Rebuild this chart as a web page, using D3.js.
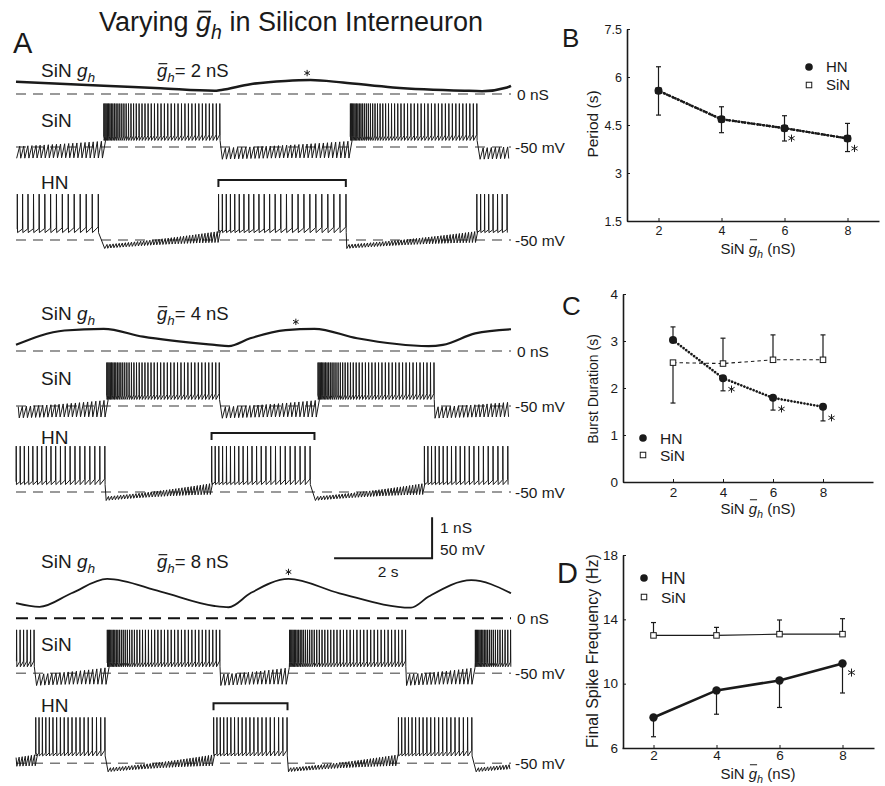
<!DOCTYPE html>
<html>
<head>
<meta charset="utf-8">
<script src="https://cdn.jsdelivr.net/npm/d3@7"></script>
<style>
  body { margin: 0; background: #fff; }
  svg text { font-family: "Liberation Sans", Arial, Helvetica, sans-serif; fill: #1a1a1a; white-space: pre; }
</style>
</head>
<body>
<svg id="fig" width="885" height="786"></svg>
<script>
// ---------- values ----------

// panel A: one recording per SiN gbar_h (nS)
const rowGbar = [2, 4, 8];

// SiN g_h trace, read by eye: time (s) and conductance (nS)
const ghTimes = [
  [0, 1.79, 2.95, 4.05, 4.19, 4.78, 5.50, 6.01, 6.67, 7.69, 9.15, 9.51, 10.02, 10.1],
  [0, 0.99, 1.79, 2.59, 4.05, 4.34, 4.78, 5.50, 6.09, 6.96, 8.42, 8.71, 9.37, 10.1],
  [0, 0.48, 1.13, 1.86, 2.95, 4.05, 4.34, 4.78, 5.56, 6.60, 8.06, 8.42, 9.29, 10.1]
];
const ghValues = [
  [0.30, 0.20, 0.14, 0.08, 0.10, 0.24, 0.32, 0.34, 0.28, 0.16, 0.08, 0.07, 0.16, 0.20],
  [0.15, 0.50, 0.54, 0.35, 0.15, 0.12, 0.31, 0.51, 0.54, 0.31, 0.12, 0.15, 0.43, 0.53],
  [0.37, 0.28, 0.61, 0.96, 0.65, 0.30, 0.27, 0.61, 0.96, 0.61, 0.26, 0.53, 0.93, 0.61]
];
// where the asterisk sits over the g_h peak (s)
const starTimes = [5.94, 5.71, 5.56];

// burst windows (s); windows cut by the trace edges extend past it
const sinBursts = [
  [[1.79, 4.19], [6.82, 9.45]],
  [[1.85, 4.19], [6.16, 8.53]],
  [[-2.0, 0.40], [1.86, 4.16], [5.58, 7.95], [9.37, 11.7]]
];
const hnBursts = [
  [[-0.8, 1.79], [4.13, 6.73], [9.40, 12.0]],
  [[-0.3, 1.82], [3.99, 6.09], [8.33, 10.5]],
  [[0.40, 1.86], [4.03, 5.54], [7.80, 9.37]]
];
// spike rate at burst start / burst end (Hz)
const sinRateHz = [[45, 14], [45, 14], [45, 14]];
const hnRateHz = [[13, 8], [14, 9.6], [15, 11.2]];

// panels B-D
const gbar = [2, 4, 6, 8];
const periodTicks = [1.5, 3, 4.5, 6, 7.5];
const periodHN = [5.57, 4.68, 4.40, 4.08];
const periodLo = [4.81, 4.26, 4.00, 3.67];
const periodHi = [6.32, 5.07, 4.79, 4.55];
const periodSiN = [5.57, 4.68, 4.40, 4.08];

const burstTicks = [0, 1, 2, 3, 4];
const burstHN = [3.02, 2.21, 1.79, 1.60];
const burstHNEnd = [3.30, 1.94, 1.53, 1.30];
const burstSiN = [2.54, 2.52, 2.60, 2.60];
const burstSiNEnd = [1.68, 3.06, 3.13, 3.13];

const freqTicks = [6, 10, 14, 18];
const freqHN = [7.9, 9.58, 10.2, 11.25];
const freqHNEnd = [6.7, 8.1, 8.52, 9.42];
const freqSiN = [13.0, 13.0, 13.08, 13.08];
const freqSiNEnd = [13.8, 13.5, 13.96, 14.04];

// ---------- drawing ----------
const svg = d3.select("#fig");
const ink = "#1a1a1a";
const T_END = 10.1;
const xT = d3.scaleLinear().domain([0, T_END]).range([16, 511]);
const PX = 41;   // 1 nS and 50 mV are both 41 px tall

// text with an italic g_h; rise = height of the bar over g (in em), null for no bar
function ghLabel(parent, x, y, size, before, after, rise) {
  const t = parent.append("text").attr("x", x).attr("y", y).style("font-size", size + "px");
  if (before) t.append("tspan").text(before);
  t.append("tspan").style("font-style", "italic").text("g");
  t.append("tspan").style("font-style", "italic").style("font-size", (size * 0.72) + "px")
    .attr("dy", size * 0.28).text("h");
  if (after) t.append("tspan").attr("dy", -size * 0.28).text(after);
  if (rise != null) {
    const box = t.node().getExtentOfChar(before.length);
    parent.append("line")
      .attr("x1", box.x + size * 0.08).attr("x2", box.x + box.width)
      .attr("y1", y - size * rise).attr("y2", y - size * rise)
      .attr("stroke", ink).attr("stroke-width", Math.max(1, size * 0.065));
  }
  return t;
}

function star(parent, cx, cy, r, w) {
  [90, 30, -30].forEach(a => {
    const dx = r * Math.cos(a * Math.PI / 180), dy = r * Math.sin(a * Math.PI / 180);
    parent.append("line").attr("x1", cx - dx).attr("y1", cy - dy).attr("x2", cx + dx).attr("y2", cy + dy)
      .attr("stroke", ink).attr("stroke-width", w || 1);
  });
}

// waveform shapes (mV)
const sinShape = {peak: 3, trough: -42, base0: -37, base1: -35, ib0: -58, ib1: -53, amp0: 14, amp1: 21, toothHz: 12, tau: 0.3};
const hnShape = {peak: 6, trough: -41, base0: -38, base1: -34, ib0: -58, ib1: -46, amp0: 5, amp1: 14, toothHz: 16, tau: 0.6};

function spikeTrace(bursts, rate, p) {
  const pts = [];
  const gaps = [];
  for (let i = 1; i < bursts.length; i++) gaps.push(bursts[i][0] - bursts[i - 1][1]);
  const gapLen = gaps.length ? d3.mean(gaps) : 2.5;

  function interburst(a, b) {
    const per = 1 / p.toothHz;
    for (let t = a + 0.02; t < b; t += per) {
      const ph = (t - a) / (b - a);
      const c = p.ib0 + (p.ib1 - p.ib0) * ph;
      const amp = p.amp0 + (p.amp1 - p.amp0) * ph * ph;
      pts.push([t, c - amp / 2], [t + per * 0.75, c + amp / 2]);
    }
  }
  function burst(a, b) {
    let t = a;
    while (t < b) {
      const f = rate[1] + (rate[0] - rate[1]) * Math.exp(-(t - a) / p.tau);
      const fr = (t - a) / (b - a);
      pts.push([t, p.base0 + (p.base1 - p.base0) * fr], [t + 0.003, p.peak], [t + 0.008, p.trough]);
      t += 1 / f;
    }
  }
  let prevEnd = bursts[0][0] - gapLen;
  bursts.forEach(b => {
    interburst(prevEnd, b[0]);
    burst(b[0], b[1]);
    prevEnd = b[1];
  });
  interburst(prevEnd, prevEnd + gapLen);
  return pts.filter(d => d[0] >= 0 && d[0] <= T_END);
}

// title and panel letters
ghLabel(svg, 99, 31, 27, "Varying ", " in Silicon Interneuron", 0.72);
[["A", 13, 53, 29], ["B", 562, 47, 26], ["C", 562, 315, 26], ["D", 557, 583, 29]].forEach(d => {
  svg.append("text").attr("x", d[1]).attr("y", d[2]).style("font-size", d[3] + "px").text(d[0]);
});

// panel A rows (layout)
const rows = [
  {ghZero: 94, sinZero: 147, hnZero: 240, labelY: 77, sinY: 127, hnY: 189, bracketY: 180, ghW: 2.5, zeroBlack: false},
  {ghZero: 351, sinZero: 406, hnZero: 492, labelY: 320, sinY: 385, hnY: 444, bracketY: 433, ghW: 2.2, zeroBlack: false},
  {ghZero: 618.3, sinZero: 673.3, hnZero: 763.3, labelY: 568, sinY: 651, hnY: 712, bracketY: 703.3, ghW: 1.8, zeroBlack: true}
];

rows.forEach((r, i) => {
  const g = svg.append("g");
  const yG = d3.scaleLinear().domain([0, 1]).range([r.ghZero, r.ghZero - PX]);
  const ySin = d3.scaleLinear().domain([-50, 0]).range([r.sinZero, r.sinZero - PX]);
  const yHn = d3.scaleLinear().domain([-50, 0]).range([r.hnZero, r.hnZero - PX]);

  // reference dashed lines
  [[r.ghZero, r.zeroBlack], [r.sinZero, false], [r.hnZero, false]].forEach(([y, black]) => {
    g.append("line").attr("x1", xT(0)).attr("x2", xT(T_END)).attr("y1", y).attr("y2", y)
      .attr("stroke", black ? "#111" : "#7a7a7a").attr("stroke-width", black ? 2 : 1.5)
      .attr("stroke-dasharray", black ? "12 7" : "10 7");
  });

  // g_h trace
  const ghData = ghTimes[i].map((t, k) => [t, ghValues[i][k]]);
  g.append("path").datum(ghData)
    .attr("d", d3.line().x(d => xT(d[0])).y(d => yG(d[1])).curve(d3.curveMonotoneX))
    .attr("fill", "none").attr("stroke", ink).attr("stroke-width", r.ghW);
  star(g, xT(starTimes[i]), yG(d3.max(ghValues[i])) - 7, 3.2, 1);

  // voltage traces
  g.append("path").datum(spikeTrace(sinBursts[i], sinRateHz[i], sinShape))
    .attr("d", d3.line().x(d => xT(d[0])).y(d => ySin(d[1])))
    .attr("fill", "none").attr("stroke", ink).attr("stroke-width", 1);
  g.append("path").datum(spikeTrace(hnBursts[i], hnRateHz[i], hnShape))
    .attr("d", d3.line().x(d => xT(d[0])).y(d => yHn(d[1])))
    .attr("fill", "none").attr("stroke", ink).attr("stroke-width", 1);

  // bracket over the middle HN burst
  const br = hnBursts[i][1];
  g.append("path")
    .attr("d", `M${xT(br[0])},${r.bracketY + 7}V${r.bracketY}H${xT(br[1])}V${r.bracketY + 7}`)
    .attr("fill", "none").attr("stroke", ink).attr("stroke-width", 2);

  // labels
  ghLabel(g, 41, r.labelY, 19, "SiN ", "", null);
  ghLabel(g, 157, r.labelY, 18.5, "", "= " + rowGbar[i] + " nS", 0.72);
  g.append("text").attr("x", 41).attr("y", r.sinY).style("font-size", "19px").text("SiN");
  g.append("text").attr("x", 41).attr("y", r.hnY).style("font-size", "19px").text("HN");
  g.append("text").attr("x", 517).attr("y", r.ghZero + 5.5).style("font-size", "15.5px").text("0 nS");
  g.append("text").attr("x", 515).attr("y", r.sinZero + 5.5).style("font-size", "15.5px").text("-50 mV");
  g.append("text").attr("x", 515).attr("y", r.hnZero + 5.5).style("font-size", "15.5px").text("-50 mV");
});

// scale bar: 2 s, 1 nS / 50 mV
const sbEnd = 8.49, sbY = 558.3;
svg.append("path")
  .attr("d", `M${xT(sbEnd - 2)},${sbY}H${xT(sbEnd)}V${sbY - PX}`)
  .attr("fill", "none").attr("stroke", ink).attr("stroke-width", 2);
svg.append("text").attr("x", xT(sbEnd) + 8).attr("y", 533).style("font-size", "15.5px").text("1 nS");
svg.append("text").attr("x", xT(sbEnd) + 8).attr("y", 555).style("font-size", "15.5px").text("50 mV");
svg.append("text").attr("x", xT(sbEnd - 1) + 5).attr("y", 577).attr("text-anchor", "middle")
  .style("font-size", "15.5px").text("2 s");

// ---------- summary panels ----------
function drawAxes(x, y, xTicks, yTicks, x0, y0, fs, pad) {
  const gx = svg.append("g").attr("transform", `translate(0,${y0})`)
    .call(d3.axisBottom(x).tickValues(xTicks).tickSizeInner(-3).tickSizeOuter(0).tickPadding(pad));
  const gy = svg.append("g").attr("transform", `translate(${x0},0)`)
    .call(d3.axisLeft(y).tickValues(yTicks).tickSizeInner(-3).tickSizeOuter(0).tickPadding(5)
      .tickFormat(d3.format("")));
  [gx, gy].forEach(a => {
    a.select(".domain").attr("stroke", ink).attr("stroke-width", 1.6);
    a.selectAll(".tick line").attr("stroke", ink);
    a.selectAll(".tick text").style("font-size", fs + "px").attr("fill", ink);
  });
}

function yTitle(text, cx, cy, fs) {
  svg.append("text").attr("transform", `translate(${cx},${cy}) rotate(-90)`)
    .attr("text-anchor", "middle").style("font-size", fs + "px").text(text);
}

function xTitle(cx, y, fs) {
  const t = ghLabel(svg, 0, y, fs, "SiN ", " (nS)", 0.95);
  const w = t.node().getComputedTextLength();
  // re-centre text and its bar
  const shift = cx - w / 2;
  t.attr("x", shift);
  const bar = d3.select(t.node().nextSibling);
  bar.attr("x1", +bar.attr("x1") + shift).attr("x2", +bar.attr("x2") + shift);
}

function series(x, y, vals, opts) {
  const pts = gbar.map((v, k) => [v, vals[k]]);
  svg.append("path").datum(pts)
    .attr("d", d3.line().x(d => x(d[0])).y(d => y(d[1])))
    .attr("fill", "none").attr("stroke", ink).attr("stroke-width", opts.w)
    .attr("stroke-dasharray", opts.dash || null).attr("stroke-linecap", opts.cap || "butt");
}

function errBars(x, y, vals, ends, cap) {
  gbar.forEach((v, k) => {
    const cx = x(v);
    svg.append("line").attr("x1", cx).attr("x2", cx).attr("y1", y(vals[k])).attr("y2", y(ends[k]))
      .attr("stroke", ink).attr("stroke-width", 1.2);
    svg.append("line").attr("x1", cx - cap).attr("x2", cx + cap).attr("y1", y(ends[k])).attr("y2", y(ends[k]))
      .attr("stroke", ink).attr("stroke-width", 1.2);
  });
}

function markers(x, y, vals, kind, s) {
  gbar.forEach((v, k) => markerAt(x(v), y(vals[k]), kind, s));
}
function markerAt(cx, cy, kind, s) {
  if (kind === "circle") {
    svg.append("circle").attr("cx", cx).attr("cy", cy).attr("r", s).attr("fill", ink);
  } else {
    svg.append("rect").attr("x", cx - s / 2).attr("y", cy - s / 2).attr("width", s).attr("height", s)
      .attr("fill", "#fff").attr("stroke", ink).attr("stroke-width", 1);
  }
}

function legend(x, y1, y2, fs1, fs2) {
  markerAt(x, y1, "circle", 3.8);
  markerAt(x, y2, "square", 5.5);
  svg.append("text").attr("x", x + 17).attr("y", y1 + fs1 * 0.36).style("font-size", fs1 + "px").text("HN");
  svg.append("text").attr("x", x + 17).attr("y", y2 + fs2 * 0.36).style("font-size", fs2 + "px").text("SiN");
}

// B: period
const xB = d3.scaleLinear().domain([1, 9]).range([627, 879]);
const yB = d3.scaleLinear().domain([1.5, 7.5]).range([221, 29]);
drawAxes(xB, yB, gbar, periodTicks, 627, 221, 12.5, 5);
yTitle("Period (s)", 598, 124, 15.5);
xTitle(758, 254, 15);
errBars(xB, yB, periodHN, periodLo, 2.5);
errBars(xB, yB, periodHN, periodHi, 2.5);
series(xB, yB, periodSiN, {w: 2.2, dash: "3 2"});
series(xB, yB, periodHN, {w: 2.6, dash: "0.1 3", cap: "round"});
markers(xB, yB, periodSiN, "square", 5.5);
markers(xB, yB, periodHN, "circle", 4);
[2, 3].forEach(k => star(svg, xB(gbar[k]) + 7, yB(periodHN[k]) + 10, 3.6, 1));
legend(809, 67, 85, 15, 15);

// C: burst duration
const xC = d3.scaleLinear().domain([0, 10]).range([623, 873]);
const yC = d3.scaleLinear().domain([0, 4]).range([482, 294]);
drawAxes(xC, yC, gbar, burstTicks, 623, 482, 13.5, 5);
yTitle("Burst Duration (s)", 598, 389, 14);
xTitle(758, 514, 15);
errBars(xC, yC, burstSiN, burstSiNEnd, 2.5);
errBars(xC, yC, burstHN, burstHNEnd, 2.5);
series(xC, yC, burstSiN, {w: 1.1, dash: "3.5 3"});
series(xC, yC, burstHN, {w: 2.6, dash: "0.1 3.2", cap: "round"});
markers(xC, yC, burstSiN, "square", 5.5);
markers(xC, yC, burstHN, "circle", 4);
[1, 2, 3].forEach(k => star(svg, xC(gbar[k]) + 8.5, yC(burstHN[k]) + 11, 3.6, 1));
legend(643, 438, 455, 15.5, 15.5);

// D: final spike frequency
const xD = d3.scaleLinear().domain([1, 9]).range([622, 874]);
const yD = d3.scaleLinear().domain([6, 18]).range([748, 555]);
drawAxes(xD, yD, gbar, freqTicks, 623, 748, 13.5, 2);
yTitle("Final Spike Frequency (Hz)", 598, 651, 16);
xTitle(758, 779, 15);
errBars(xD, yD, freqSiN, freqSiNEnd, 2.5);
errBars(xD, yD, freqHN, freqHNEnd, 2.5);
series(xD, yD, freqSiN, {w: 1.1});
series(xD, yD, freqHN, {w: 2.6});
markers(xD, yD, freqSiN, "square", 5.5);
markers(xD, yD, freqHN, "circle", 4.2);
star(svg, xD(8) + 9, yD(freqHN[3]) + 9, 4, 1);
legend(644, 578, 597, 17, 15.5);
</script>
</body>
</html>
